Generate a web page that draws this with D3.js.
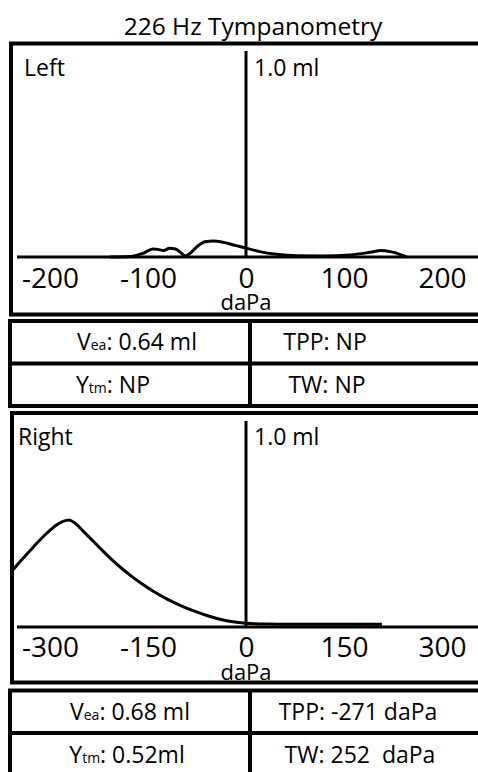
<!DOCTYPE html>
<html>
<head>
<meta charset="utf-8">
<script src="https://cdn.jsdelivr.net/npm/d3@7"></script>
<style>
  body { margin: 0; background: #fff; }
  svg { display: block; }
  text { font-family: "Open Sans", sans-serif; fill: #000; white-space: pre; }
</style>
</head>
<body>
<svg id="chart" width="478" height="772"></svg>
<script>
// Tympanogram data: pressure (daPa) against admittance (ml)
const chartTitle = "226 Hz Tympanometry";
const earNames = ["Left", "Right"];
const volumeLabel = "1.0 ml";
const pressureUnit = "daPa";

const leftTicks = [-200, -100, 0, 100, 200];
const rightTicks = [-300, -150, 0, 150, 300];

const leftPressure = [-139, -118, -105, -95, -90, -84, -78, -72, -67, -62, -57, -50, -42, -33, -23, -10, 0, 14, 31, 52, 79, 106, 127, 138, 147, 157, 164];
const leftAdmittance = [0.0, 0.002, 0.018, 0.039, 0.037, 0.032, 0.042, 0.039, 0.023, 0.005, 0.018, 0.05, 0.074, 0.078, 0.071, 0.055, 0.043, 0.026, 0.013, 0.006, 0.005, 0.01, 0.023, 0.031, 0.026, 0.013, 0.0];

const rightPressure = [-365, -345, -325, -305, -290, -280, -271, -262, -250, -235, -220, -205, -190, -175, -160, -140, -120, -100, -80, -60, -40, -20, 0, 30, 100, 208];
const rightAdmittance = [0.245, 0.32, 0.39, 0.455, 0.495, 0.513, 0.52, 0.505, 0.468, 0.42, 0.372, 0.326, 0.284, 0.246, 0.211, 0.17, 0.134, 0.104, 0.078, 0.056, 0.038, 0.025, 0.018, 0.014, 0.013, 0.013];

// Result boxes: V_ea, TPP, Y_tm, TW
const measureNames = [["V", "ea"], ["TPP", ""], ["Y", "tm"], ["TW", ""]];
const leftMeasures = ["0.64 ml", "NP", "NP", "NP"];
const rightMeasures = ["0.68 ml", "-271 daPa", "0.52ml", "252  daPa"];

const svg = d3.select("#chart");

svg.append("text")
  .attr("x", 253).attr("y", 35)
  .attr("text-anchor", "middle")
  .attr("font-size", 24.5)
  .text(chartTitle);

function drawPanel(cfg) {
  const g = svg.append("g");
  const x = d3.scaleLinear().domain([-cfg.span, cfg.span]).range([246 - cfg.halfWidth, 246 + cfg.halfWidth]);
  const y = d3.scaleLinear().domain([0, 1]).range([cfg.base, cfg.base - 206]);

  const clipId = "clip-" + cfg.name;
  g.append("clipPath").attr("id", clipId)
    .append("rect").attr("x", cfg.left).attr("y", cfg.top).attr("width", 478 - cfg.left).attr("height", cfg.bottom - cfg.top);

  // horizontal pressure axis
  g.append("line")
    .attr("x1", 17).attr("x2", 480)
    .attr("y1", y(0)).attr("y2", y(0))
    .attr("stroke", "#000").attr("stroke-width", 3);

  // vertical admittance axis at 0 daPa
  g.append("line")
    .attr("x1", x(0)).attr("x2", x(0))
    .attr("y1", y(1)).attr("y2", y(0))
    .attr("stroke", "#000").attr("stroke-width", 3);

  const pts = cfg.pressure.map((p, i) => [p, cfg.admittance[i]]);
  g.append("path")
    .datum(pts)
    .attr("clip-path", `url(#${clipId})`)
    .attr("fill", "none")
    .attr("stroke", "#000")
    .attr("stroke-width", 3)
    .attr("stroke-linejoin", "round")
    .attr("d", d3.line().x(d => x(d[0])).y(d => y(d[1])).curve(d3.curveMonotoneX));

  const axis = g.append("g")
    .attr("transform", `translate(0,${cfg.tickBase})`)
    .call(d3.axisBottom(x).tickValues(cfg.ticks).tickSize(0).tickFormat(d => String(d)));
  axis.select(".domain").remove();
  axis.selectAll("text")
    .attr("y", 0).attr("dy", 0)
    .attr("font-size", 28)
    .attr("font-family", "Open Sans, sans-serif")
    .attr("fill", "#000");

  g.append("text")
    .attr("x", x(0)).attr("y", cfg.unitBase)
    .attr("text-anchor", "middle")
    .attr("font-size", 22)
    .text(pressureUnit);

  g.append("text")
    .attr("x", cfg.nameX).attr("y", cfg.top + 32)
    .attr("font-size", 23)
    .text(cfg.name);

  g.append("text")
    .attr("x", x(0) + 8).attr("y", cfg.top + 32)
    .attr("font-size", 23)
    .text(volumeLabel);

  // panel frame
  g.append("rect")
    .attr("x", cfg.left).attr("y", cfg.top)
    .attr("width", 490 - cfg.left).attr("height", cfg.bottom - cfg.top)
    .attr("fill", "none").attr("stroke", "#000").attr("stroke-width", 4);

  // result box
  const t = g.append("g");
  const tTop = cfg.tableTop, rowH = 42.5;
  t.append("rect")
    .attr("x", 10).attr("y", tTop)
    .attr("width", 480).attr("height", rowH * 2)
    .attr("fill", "none").attr("stroke", "#000").attr("stroke-width", 4);
  t.append("line")
    .attr("x1", 10).attr("x2", 490)
    .attr("y1", tTop + rowH).attr("y2", tTop + rowH)
    .attr("stroke", "#000").attr("stroke-width", 4);
  t.append("line")
    .attr("x1", 250).attr("x2", 250)
    .attr("y1", tTop).attr("y2", tTop + rowH * 2)
    .attr("stroke", "#000").attr("stroke-width", 4);

  measureNames.forEach((nm, i) => {
    const row = Math.floor(i / 2);
    const txt = t.append("text")
      .attr("x", cfg.cellX[i])
      .attr("y", tTop + 29 + row * rowH + (row ? 0.5 : 0))
      .attr("text-anchor", "middle")
      .attr("font-size", 23);
    txt.append("tspan").text(nm[0]);
    if (nm[1]) txt.append("tspan").attr("font-size", 14).text(nm[1]);
    txt.append("tspan").text(": " + cfg.measures[i]);
  });
}

drawPanel({
  name: earNames[0], nameX: 24,
  left: 11, top: 43.5, bottom: 314.5,
  base: 257, tickBase: 288, unitBase: 310,
  span: 250, halfWidth: 245,
  ticks: leftTicks,
  pressure: leftPressure, admittance: leftAdmittance,
  tableTop: 321, measures: leftMeasures,
  cellX: [137, 325, 113, 327]
});

drawPanel({
  name: earNames[1], nameX: 18,
  left: 12, top: 413, bottom: 682.5,
  base: 627, tickBase: 657, unitBase: 680,
  span: 375, halfWidth: 245,
  ticks: rightTicks,
  pressure: rightPressure, admittance: rightAdmittance,
  tableTop: 690.5, measures: rightMeasures,
  cellX: [130, 358, 127, 360]
});
</script>
</body>
</html>
